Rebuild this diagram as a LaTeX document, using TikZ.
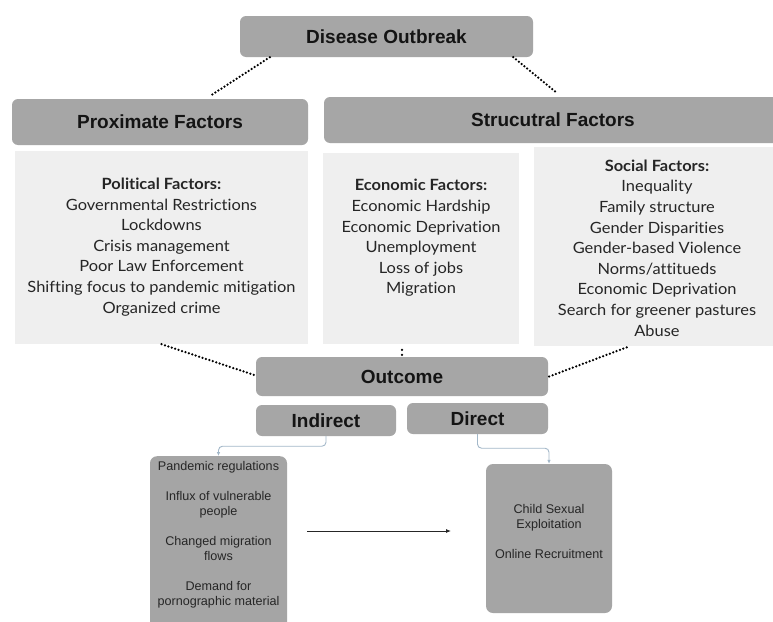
\documentclass[tikz,border=0pt]{standalone}
\usepackage{fontspec}
\newfontfamily\hdrfont{Liberation Sans}
\newfontfamily\bodyfont[FakeStretch=1.06,Ligatures={NoCommon}]{Lato}
\usetikzlibrary{calc,arrows.meta}
\definecolor{hdrgray}{HTML}{A6A6A6}
\definecolor{lightbox}{HTML}{EFEFEF}
\definecolor{boxgray}{HTML}{A5A5A5}
\definecolor{linkblue}{HTML}{A3B8C9}
\definecolor{txt}{HTML}{262626}
\begin{document}
\begin{tikzpicture}[x=1pt,y=-1pt,
  hdr/.style={fill=hdrgray, rounded corners=6pt, inner sep=0pt, text=black!92,
    font=\hdrfont\bfseries\fontsize{19}{22}\selectfont},
  factorbox/.style={fill=lightbox, inner sep=0pt},
  factortext/.style={align=center, inner sep=0pt, text=txt,
    font=\bodyfont\fontsize{15.5}{20.6}\selectfont},
  outbox/.style={fill=boxgray, rounded corners=7pt, inner sep=0pt},
  outtext/.style={align=center, inner sep=0pt, text=txt,
    font=\hdrfont\fontsize{12.6}{15}\selectfont},
  dotline/.style={line width=2.5pt, dash pattern=on 0pt off 3.6pt, line cap=round, black},
  bluelink/.style={draw=linkblue, line width=0.9pt, rounded corners=4pt,
    -{Latex[length=4pt,width=3.5pt]}},
  blacklink/.style={draw=black!85, line width=0.9pt, -{Latex[length=5pt,width=4pt]}}
]
\clip (0,0) rectangle (773,621);
\fill[white] (0,0) rectangle (773,621);

% header boxes
\node[hdr, minimum width=293pt, minimum height=41pt] (dis) at (386.5,36.5) {Disease Outbreak};
\node[hdr, minimum width=296pt, minimum height=46pt] (prox) at (160,122) {Proximate Factors};
\node[hdr, minimum width=458pt, minimum height=46pt] (struct) at (553,120) {Strucutral Factors};

% factor boxes
\node[factorbox, minimum width=293pt, minimum height=193pt] (pol) at (161.5,247.5) {};
\node[factorbox, minimum width=196pt, minimum height=191pt] (eco) at (421,248.5) {};
\node[factorbox, minimum width=246pt, minimum height=199pt] (soc) at (657,246.5) {};

\node[factortext] (poltext) at (161.5,247) {{\bfseries Political Factors:}\\Governmental Restrictions\\Lockdowns\\Crisis management\\Poor Law Enforcement\\Shifting focus to pandemic mitigation\\Organized crime};
\node[factortext] (ecotext) at (421,238) {{\bfseries Economic Factors:}\\Economic Hardship\\Economic Deprivation\\Unemployment\\Loss of jobs\\Migration};
\node[factortext] (soctext) at (657,248) {{\bfseries Social Factors:}\\Inequality\\Family structure\\Gender Disparities\\Gender-based Violence\\Norms/attitueds\\Economic Deprivation\\Search for greener pastures\\Abuse};

% outcome boxes
\node[hdr, minimum width=292pt, minimum height=39pt] (out) at (402,376.5) {Outcome};
\node[hdr, minimum width=140pt, minimum height=31pt] (ind) at (326,420.5) {Indirect};
\node[hdr, minimum width=141pt, minimum height=31pt] (dir) at (477.5,418.5) {Direct};

\node[outbox, minimum width=137pt, minimum height=180pt, anchor=north] (pan) at (218.5,456) {};
\node[outtext] (pantext) at (218.5,535) {Pandemic regulations\\[15pt]Influx of vulnerable\\people\\[15pt]Changed migration\\flows\\[15pt]Demand for\\pornographic material};
\node[outbox, minimum width=126pt, minimum height=149pt] (cse) at (549,538.5) {};
\node[outtext] (csetext) at (549,531) {Child Sexual\\Exploitation\\[15pt]Online Recruitment};

% dotted connectors
\draw[dotline] ($(dis.south west)+(30,0)$) -- ($(prox.north west)+(200,-4)$);
\draw[dotline] ($(dis.south east)+(-20,0)$) -- ($(struct.north west)+(233,-4)$);
\draw[dotline] ($(pol.south)+(0,0)$) -- ($(out.west)+(0,-1)$);
\draw[line width=2.5pt, dash pattern=on 0pt off 5pt, line cap=round] ($(out.north)+(0,-2)$) -- ($(out.north)+(0,-7)$);
\draw[dotline] ($(out.east)+(1,0)$) -- ($(soc.south)+(-30,1)$);

% arrows
\draw[bluelink] (ind.south) -- ++(0,10) -| (pan.north);
\draw[bluelink] (dir.south) -- ++(0,14) -| (cse.north);
\coordinate (a1) at (307,531);
\coordinate (a2) at (451,531);
\draw[blacklink] (a1) -- (a2);
\end{tikzpicture}
\end{document}
